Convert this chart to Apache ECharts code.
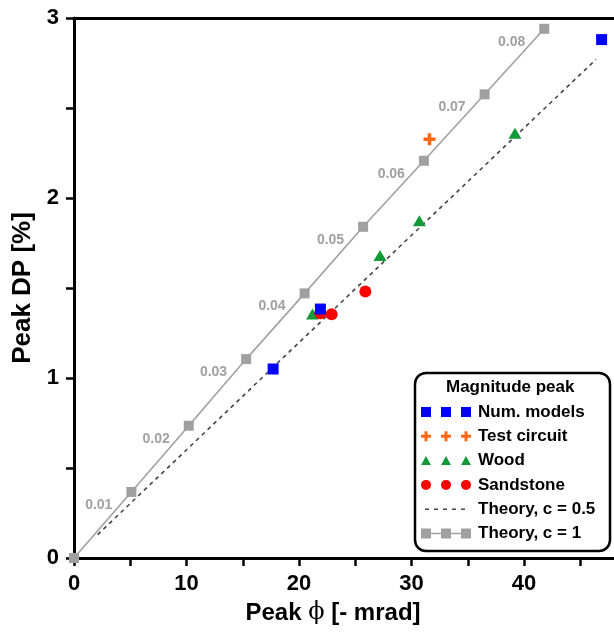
<!DOCTYPE html>
<html>
<head>
<meta charset="utf-8">
<script src="https://cdn.jsdelivr.net/npm/echarts@6/dist/echarts.min.js"></script>
<style>
    html, body { margin: 0; padding: 0; background: #fff; }
    #chart { width: 614px; height: 642px; }
</style>
</head>
<body>
<div id="chart"></div>
<script>
// 数据：数值
var numModelsX = [17.7, 21.9, 46.9];
var numModelsY = [1.05, 1.383, 2.88];
var testCircuitX = [31.6];
var testCircuitY = [2.326];
var woodX = [21.2, 27.2, 30.7, 39.2];
var woodY = [1.355, 1.68, 1.874, 2.36];
var sandstoneX = [21.9, 22.9, 25.9];
var sandstoneY = [1.36, 1.354, 1.48];
var theoryHalfX = [2.1, 46.4];
var theoryHalfY = [0.13, 2.77];
var theoryOneX = [0, 5.1, 10.2, 15.3, 20.5, 25.7, 31.1, 36.5, 41.8];
var theoryOneY = [0, 0.367, 0.735, 1.105, 1.47, 1.84, 2.207, 2.576, 2.94];
var theoryOneLabels = ['', '0.01', '0.02', '0.03', '0.04', '0.05', '0.06', '0.07', '0.08'];
var xTicks = [0, 10, 20, 30, 40];
var yTicks = [0, 1, 2, 3];

var FONT = 'Liberation Sans, Arial, sans-serif';

function pairs(xs, ys) {
    return xs.map(function (x, i) { return [x, ys[i]]; });
}

// 图例图标：三个符号
var iconSquares = 'path://M0,0h10v10h-10z M20,0h10v10h-10z M40,0h10v10h-10z';
var iconPlus = 'path://M3.5,0h3v3.5h3.5v3h-3.5v3.5h-3v-3.5h-3.5v-3h3.5z'
    + ' M23.5,0h3v3.5h3.5v3h-3.5v3.5h-3v-3.5h-3.5v-3h3.5z'
    + ' M43.5,0h3v3.5h3.5v3h-3.5v3.5h-3v-3.5h-3.5v-3h3.5z';
var iconTriangles = 'path://M5,1L10,10H0z M25,1L30,10H20z M45,1L50,10H40z';
var iconCircles = 'path://M0,5a5,5 0 1,0 10,0a5,5 0 1,0 -10,0z'
    + ' M20,5a5,5 0 1,0 10,0a5,5 0 1,0 -10,0z'
    + ' M40,5a5,5 0 1,0 10,0a5,5 0 1,0 -10,0z';
// 虚线图标，两端的极小点只用来撑开尺寸
var iconDashed = 'path://M0,0h0.05v0.05h-0.05z M0,9.95h0.05v0.05h-0.05z'
    + ' M4,4.3h4v1.4h-4z M13,4.3h4v1.4h-4z M22,4.3h4v1.4h-4z'
    + ' M31,4.3h4v1.4h-4z M40,4.3h4v1.4h-4z M49.95,0h0.05v0.05h-0.05z';
var iconLineSquares = 'path://M0,0h10v10h-10z M20,0h10v10h-10z M40,0h10v10h-10z'
    + ' M10,4.2h10v1.6h-10z M30,4.2h10v1.6h-10z';

var mychart = echarts.init(document.getElementById('chart'));
var option = {
    animation: false,
    backgroundColor: '#fff',
    grid: {
        left: 74,
        right: 0,
        top: 18,
        bottom: 84
    },
    graphic: [{
        type: 'rect',
        z: 1,
        shape: { x: 415, y: 373, width: 195, height: 178, r: 11 },
        style: { fill: '#fff', stroke: '#000', lineWidth: 2.5 }
    }, {
        type: 'text',
        z: 6,
        left: 512 - 66,
        top: 379,
        style: {
            text: 'Magnitude peak',
            font: 'bold 17px ' + FONT,
            fill: '#000'
        }
    }],
    legend: {
        orient: 'vertical',
        left: 421,
        top: 402,
        padding: 0,
        z: 6,
        itemWidth: 50,
        itemHeight: 10,
        itemGap: 4.3,
        textStyle: {
            fontFamily: FONT,
            fontWeight: 'bold',
            fontSize: 17,
            lineHeight: 20,
            color: '#000',
            padding: [0, 0, 0, 2]
        },
        data: [
            { name: 'Num. models', icon: iconSquares },
            { name: 'Test circuit', icon: iconPlus },
            { name: 'Wood', icon: iconTriangles },
            { name: 'Sandstone', icon: iconCircles },
            { name: 'Theory, c = 0.5', icon: iconDashed },
            { name: 'Theory, c = 1', icon: iconLineSquares }
        ]
    },
    xAxis: [{
        type: 'value',
        min: 0,
        max: 48,
        interval: 5,
        name: 'Peak {p|ϕ} [- mrad]',
        nameLocation: 'middle',
        nameGap: 43,
        nameTextStyle: {
            fontFamily: FONT,
            fontWeight: 'bold',
            fontSize: 24,
            color: '#000',
            padding: [0, 22, 0, 0],
            rich: {
                p: { fontFamily: 'DejaVu Serif', fontWeight: 'normal', fontSize: 24, color: '#000' }
            }
        },
        splitLine: { show: false },
        axisLine: { onZero: false, lineStyle: { color: '#000', width: 3 } },
        axisTick: { inside: false, length: 8, lineStyle: { color: '#000', width: 2.5 } },
        axisLabel: {
            margin: 15,
            fontFamily: FONT,
            fontWeight: 'bold',
            fontSize: 22,
            color: '#000',
            showMaxLabel: false,
            formatter: function (v) {
                return xTicks.indexOf(v) >= 0 ? String(v) : '';
            }
        }
    }, {
        type: 'value',
        position: 'top',
        min: 0,
        max: 48,
        axisLine: { show: true, onZero: false, lineStyle: { color: '#000', width: 3 } },
        axisTick: { show: false },
        axisLabel: { show: false },
        splitLine: { show: false }
    }],
    yAxis: [{
        type: 'value',
        min: 0,
        max: 3,
        interval: 0.5,
        name: 'Peak DP [%]',
        nameLocation: 'middle',
        nameGap: 33,
        nameTextStyle: {
            fontFamily: FONT,
            fontWeight: 'bold',
            fontSize: 26,
            color: '#000'
        },
        splitLine: { show: false },
        axisLine: { show: true, onZero: false, lineStyle: { color: '#000', width: 3 } },
        axisTick: { show: true, inside: false, length: 8, lineStyle: { color: '#000', width: 2.5 } },
        axisLabel: {
            margin: 15,
            fontFamily: FONT,
            fontWeight: 'bold',
            fontSize: 22,
            color: '#000',
            formatter: function (v) {
                return yTicks.indexOf(v) >= 0 ? String(v) : '';
            }
        }
    }],
    series: [{
        name: 'Theory, c = 0.5',
        type: 'line',
        z: 2,
        symbol: 'none',
        color: '#444',
        lineStyle: { color: '#444', width: 1.6, type: [4, 4] },
        data: pairs(theoryHalfX, theoryHalfY)
    }, {
        name: 'Theory, c = 1',
        type: 'line',
        z: 3,
        symbol: 'rect',
        symbolSize: 10,
        color: '#a0a0a0',
        itemStyle: { color: '#a0a0a0' },
        lineStyle: { color: '#a0a0a0', width: 1.6 },
        label: {
            show: true,
            position: 'left',
            distance: 14,
            offset: [0, 13],
            fontFamily: FONT,
            fontWeight: 'bold',
            fontSize: 14,
            color: '#a0a0a0',
            formatter: function (p) { return theoryOneLabels[p.dataIndex]; }
        },
        data: pairs(theoryOneX, theoryOneY)
    }, {
        name: 'Wood',
        type: 'scatter',
        z: 4,
        symbol: 'triangle',
        symbolSize: [13, 11],
        itemStyle: { color: '#129a3a', opacity: 1 },
        data: pairs(woodX, woodY)
    }, {
        name: 'Sandstone',
        type: 'scatter',
        z: 5,
        symbol: 'circle',
        symbolSize: 12,
        itemStyle: { color: '#ff0000', opacity: 1 },
        data: pairs(sandstoneX, sandstoneY)
    }, {
        name: 'Num. models',
        type: 'scatter',
        z: 6,
        symbol: 'rect',
        symbolSize: 11,
        itemStyle: { color: '#0000ff', opacity: 1 },
        data: pairs(numModelsX, numModelsY)
    }, {
        name: 'Test circuit',
        type: 'scatter',
        z: 7,
        symbol: 'path://M3.5,0h3v3.5h3.5v3h-3.5v3.5h-3v-3.5h-3.5v-3h3.5z',
        symbolSize: 12,
        itemStyle: { color: '#ff6a13', opacity: 1 },
        data: pairs(testCircuitX, testCircuitY)
    }]
};
mychart.setOption(option);
</script>
</body>
</html>
